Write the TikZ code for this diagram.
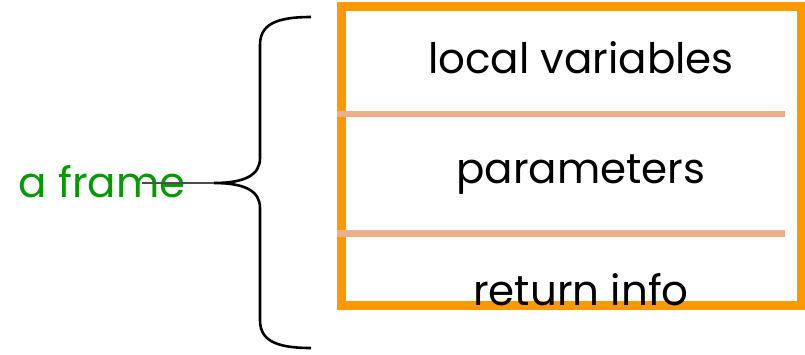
\documentclass[tikz,border=0pt]{standalone}
\usepackage{fontspec}
\setmainfont{Poppins}
\definecolor{frameorange}{HTML}{FF9900}
\definecolor{sepcolor}{HTML}{EDB08C}
\definecolor{labelgreen}{HTML}{009900}
\begin{document}
\begin{tikzpicture}[x=1pt,y=-1pt,
  cell/.style={font=\fontsize{42}{50}\selectfont, text=black, inner sep=0pt, anchor=center},
  sep/.style={sepcolor, line width=6.5pt},
  brace/.style={black, line width=2.6pt}]
\useasboundingbox (0,0) rectangle (805,354);
\draw[frameorange, line width=8.5pt] (341.5,6.5) rectangle (801.5,305.5);
\coordinate (s1l) at (337,114); \coordinate (s1r) at (785,114);
\coordinate (s2l) at (337,233.5); \coordinate (s2r) at (785,233.5);
\draw[sep] (s1l) -- (s1r);
\draw[sep] (s2l) -- (s2r);
\node[cell] (lv) at (581,58) {local variables};
\node[cell] (pa) at (581,175) {parameters};
\node[cell] (ri) at (581,290) {return info};
\node[font=\fontsize{42}{50}\selectfont, text=labelgreen, inner sep=0pt] (af) at (102,182) {a frame};
\coordinate (tip) at (214,183);
\coordinate (top) at (311,17);
\coordinate (bot) at (311,348);
\coordinate (lineend) at (142,183);
\draw[brace] (top) .. controls (275,17) and (260,25) .. (260,45)
  -- (260,158) .. controls (260,175) and (245,183) .. (tip)
  .. controls (245,183) and (260,191) .. (260,208)
  -- (260,320) .. controls (260,340) and (275,348) .. (bot);
\draw[black!70, line width=1.2pt] (tip) -- (lineend);
\end{tikzpicture}
\end{document}
